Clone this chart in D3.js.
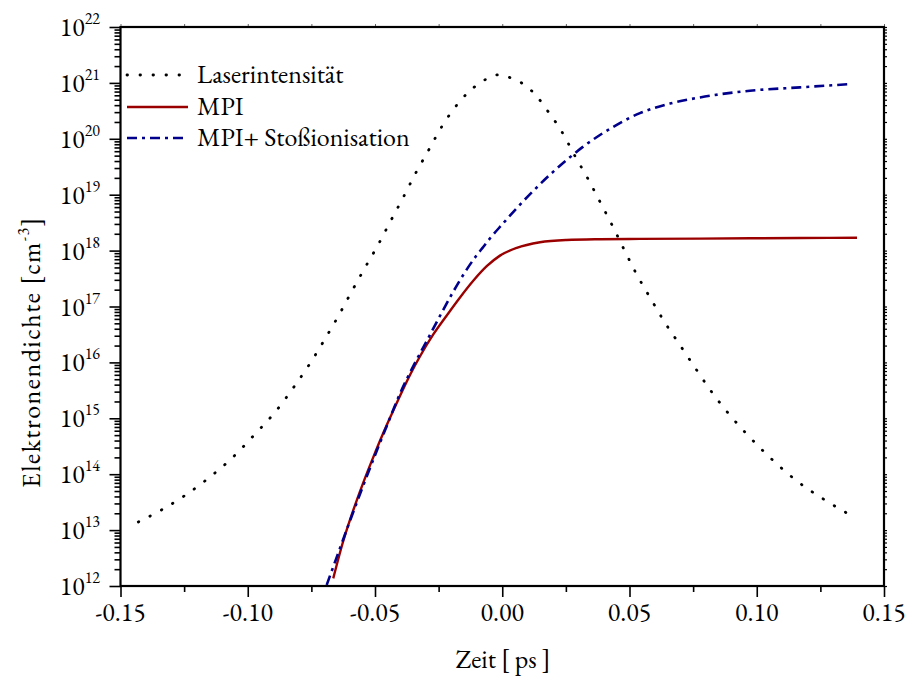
<!DOCTYPE html>
<html>
<head>
<meta charset="utf-8">
<script src="https://cdn.jsdelivr.net/npm/d3@7"></script>
<style>
  html, body { margin: 0; padding: 0; background: #fff; }
</style>
</head>
<body>
<svg id="chart" width="909" height="679"></svg>
<script>
// ---- data (time in ps, electron density in cm^-3) ----
const laserTime = [-0.1430,-0.1337,-0.1244,-0.1152,-0.1059,-0.0972,-0.0889,-0.0818,-0.0755,-0.0699,
  -0.0644,-0.0592,-0.0540,-0.0489,-0.0438,-0.0389,-0.0340,-0.0289,-0.0237,-0.0171,
  -0.0131,-0.0085,-0.0038,-0.0015,0.0008,0.0054,0.0100,0.0138,0.0172,0.0234,
  0.0285,0.0338,0.0388,0.0436,0.0481,0.0528,0.0581,0.0637,0.0699,0.0761,
  0.0825,0.0898,0.0983,0.1072,0.1163,0.1268,0.1362];
const laserValues = [1.40e13,2.32e13,4.25e13,8.65e13,2.00e14,5.18e14,1.35e15,3.67e15,9.64e15,2.52e16,
  6.76e16,1.84e17,4.89e17,1.24e18,3.43e18,8.97e18,2.44e19,6.31e19,1.67e20,4.43e20,
  6.97e20,1.01e21,1.33e21,1.40e21,1.33e21,1.13e21,8.34e20,5.60e20,3.46e20,1.34e20,
  4.99e19,1.88e19,6.90e18,2.61e18,9.95e17,3.77e17,1.44e17,5.35e16,2.02e16,7.62e15,
  2.87e15,1.09e15,4.09e14,1.63e14,7.24e13,3.45e13,1.92e13];

const mpiTime = [-0.0664,-0.0625,-0.0585,-0.0546,-0.0507,-0.0467,-0.0434,-0.0402,-0.0362,-0.0323,
  -0.0271,-0.0218,-0.0166,-0.0114,-0.0061,-0.0009,0.0057,0.0148,0.0253,0.0384,
  0.0541,0.0777,0.1170,0.1394];
const mpiValues = [1.37e12,6.31e12,2.29e13,7.08e13,2.00e14,5.50e14,1.20e15,2.51e15,6.03e15,1.29e16,
  3.16e16,6.92e16,1.45e17,2.88e17,5.25e17,8.13e17,1.12e18,1.41e18,1.55e18,1.60e18,
  1.62e18,1.64e18,1.68e18,1.70e18];

const stossTime = [-0.0690,-0.0650,-0.0598,-0.0546,-0.0493,-0.0454,-0.0402,-0.0350,-0.0297,-0.0245,
  -0.0192,-0.0140,-0.0100,-0.0074,-0.0048,0.0004,0.0057,0.0122,0.0188,0.0253,
  0.0318,0.0384,0.0450,0.0541,0.0659,0.0777,0.0973,0.1170,0.1373];
const stossValues = [1.04e12,3.31e12,1.48e13,6.31e13,2.63e14,7.24e14,2.75e15,8.51e15,2.40e16,6.76e16,
  1.86e17,4.57e17,8.32e17,1.17e18,1.66e18,3.09e18,5.75e18,1.17e19,2.29e19,4.17e19,
  7.24e19,1.17e20,1.78e20,2.88e20,4.27e20,5.50e20,7.24e20,8.32e20,9.55e20];

const xTickValues = [-0.15,-0.10,-0.05,0.00,0.05,0.10,0.15];
const xTickLabels = ["-0.15","-0.10","-0.05","0.00","0.05","0.10","0.15"];
const yTickExponents = [12,13,14,15,16,17,18,19,20,21,22];
const legendLabels = ["Laserintensität","MPI","MPI+ Stoßionisation"];
const xTitle = "Zeit [ ps ]";
const yTitleMain = "Elektronendichte [cm";
const yTitleSup = "-3";

// ---- layout ----
const FONT = "'EB Garamond', 'Liberation Serif', serif";
const svg = d3.select("#chart");
const L = 120.5, R = 884, T = 27, B = 586;
const x = d3.scaleLinear().domain([-0.15, 0.15]).range([L, R]);
const y = d3.scaleLog().domain([1e12, 1e22]).range([B, T]);

svg.append("defs").append("clipPath").attr("id","clip")
  .append("rect").attr("x", L).attr("y", T).attr("width", R - L).attr("height", B - T);

const xMinor = d3.range(-0.125, 0.15, 0.05);
const yMinor = [];
yTickExponents.slice(0, -1).forEach(e => { for (let m = 2; m <= 9; m++) yMinor.push(m * Math.pow(10, e)); });
const yMajor = yTickExponents.map(e => Math.pow(10, e));

function styleAxis(g) {
  g.select(".domain").remove();
  g.selectAll(".tick line").attr("stroke", "#000").attr("stroke-width", 1.6);
  g.selectAll(".tick text").remove();
}

svg.append("g").attr("transform", `translate(0,${B})`)
  .call(d3.axisBottom(x).tickValues(xTickValues).tickSize(11).tickFormat(""))
  .call(styleAxis);
svg.append("g").attr("transform", `translate(0,${B})`)
  .call(d3.axisBottom(x).tickValues(xMinor).tickSize(6).tickFormat(""))
  .call(styleAxis);
svg.append("g").attr("transform", `translate(0,${T})`)
  .call(d3.axisTop(x).tickValues(xTickValues.concat(xMinor)).tickSize(3).tickFormat(""))
  .call(g => { styleAxis(g); g.selectAll(".tick line").attr("stroke-width", 1).attr("stroke", "#666"); });

svg.append("g").attr("transform", `translate(${L},0)`)
  .call(d3.axisLeft(y).tickValues(yMajor).tickSize(11).tickFormat(""))
  .call(styleAxis);
svg.append("g").attr("transform", `translate(${L},0)`)
  .call(d3.axisLeft(y).tickValues(yMinor).tickSize(6).tickFormat(""))
  .call(styleAxis);
svg.append("g").attr("transform", `translate(${R},0)`)
  .call(d3.axisRight(y).tickValues(yMajor.concat(yMinor)).tickSize(3).tickFormat(""))
  .call(g => { styleAxis(g); g.selectAll(".tick line").attr("stroke-width", 1.2); });

svg.append("rect").attr("x", L).attr("y", T).attr("width", R - L).attr("height", B - T)
  .attr("fill", "none").attr("stroke", "#000").attr("stroke-width", 2.2);

svg.append("g").selectAll("text").data(xTickValues).join("text")
  .attr("x", d => x(d)).attr("y", 621)
  .attr("text-anchor", "middle").style("font-family", FONT).style("font-size", "26px")
  .text((d, i) => xTickLabels[i]);

const yl = svg.append("g").selectAll("text").data(yTickExponents).join("text")
  .attr("x", 100).attr("y", d => y(Math.pow(10, d)) + 9)
  .attr("text-anchor", "end").style("font-family", FONT).style("font-size", "26px");
yl.append("tspan").text("10");
yl.append("tspan").attr("dy", -12).style("font-size", "16px").text(d => String(d));

svg.append("text").attr("x", 503).attr("y", 668).attr("text-anchor", "middle")
  .style("font-family", FONT).style("font-size", "26px").text(xTitle);
const yt = svg.append("text").attr("transform", "translate(40,352) rotate(-90)")
  .attr("text-anchor", "middle").style("font-family", FONT).style("font-size", "26px")
  .style("letter-spacing", "1.5px");
yt.append("tspan").text(yTitleMain);
yt.append("tspan").attr("dy", -11).style("font-size", "16px").text(yTitleSup);
yt.append("tspan").attr("dy", 11).text("]");

const line = d3.line().x(d => x(d[0])).y(d => y(d[1])).curve(d3.curveMonotoneX);
const plot = svg.append("g").attr("clip-path", "url(#clip)");

const series = [
  { t: laserTime, v: laserValues, color: "#000", width: 2.8, dash: "0.5,12.5", cap: "round" },
  { t: mpiTime, v: mpiValues, color: "#9b0000", width: 2.4, dash: null, cap: "butt" },
  { t: stossTime, v: stossValues, color: "#00008c", width: 2.6, dash: "10,5,3,5", cap: "butt" }
];
series.forEach(s => {
  const pts = s.t.map((t, i) => [t, s.v[i]]);
  const p = plot.append("path").datum(pts).attr("d", line)
    .attr("fill", "none").attr("stroke", s.color).attr("stroke-width", s.width)
    .attr("stroke-linecap", s.cap).attr("stroke-linejoin", "round");
  if (s.dash) p.attr("stroke-dasharray", s.dash);
});

const legY = [75, 107, 138];
const lg = svg.append("g");
series.forEach((s, i) => {
  const ln = lg.append("line").attr("x1", 127).attr("x2", 188).attr("y1", legY[i]).attr("y2", legY[i])
    .attr("stroke", s.color).attr("stroke-width", s.width).attr("stroke-linecap", s.cap);
  if (s.dash) ln.attr("stroke-dasharray", s.dash);
  lg.append("text").attr("x", 197).attr("y", legY[i] + 8)
    .style("font-family", FONT).style("font-size", "26px").text(legendLabels[i]);
});
</script>
</body>
</html>
